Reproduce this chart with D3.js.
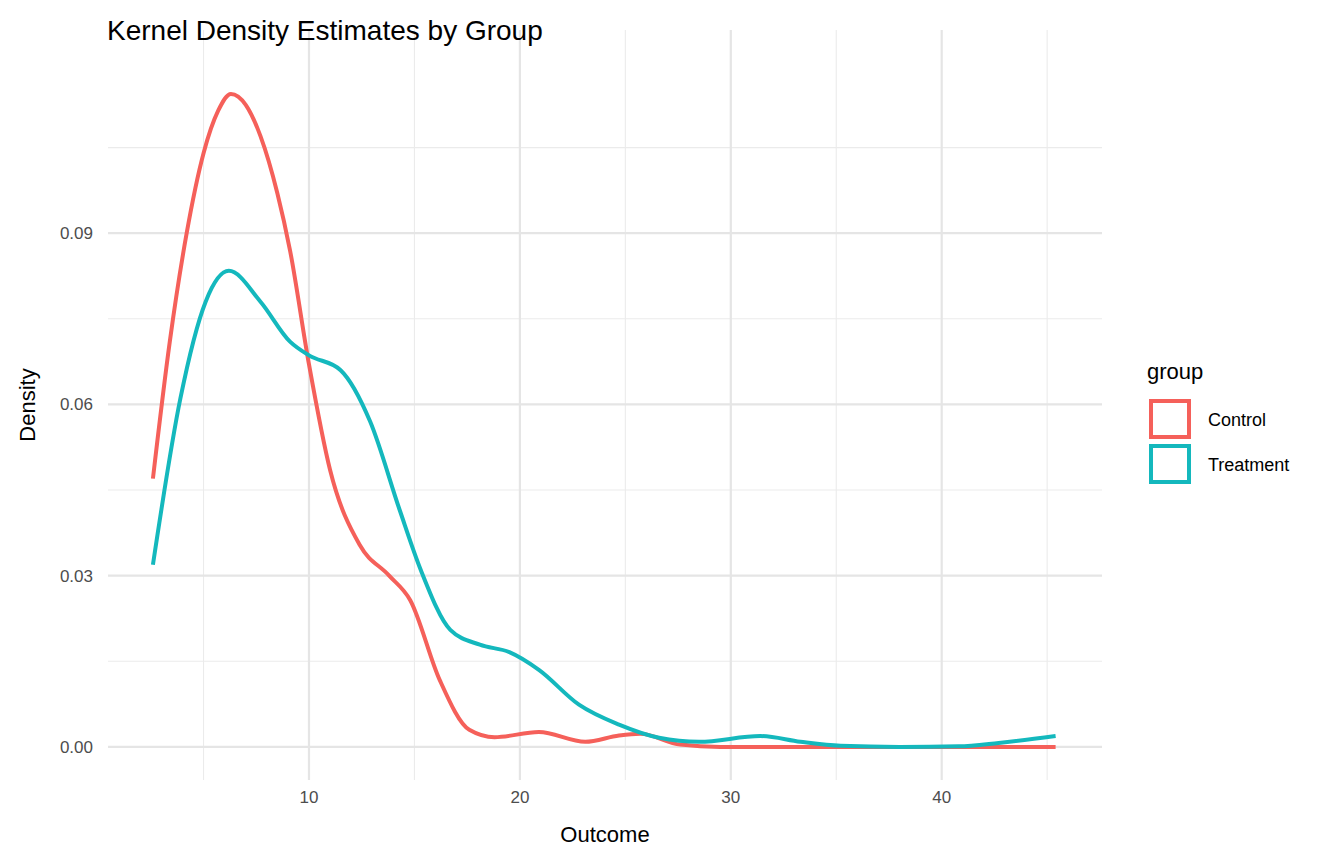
<!DOCTYPE html>
<html><head><meta charset="utf-8">
<script src="https://cdn.jsdelivr.net/npm/d3@7"></script>
<style>body{margin:0;background:#fff;font-family:"Liberation Sans",Arial,sans-serif;}</style>
</head><body><div id="canvas"></div>
<script>
var groups = ["Control", "Treatment"];
var colors = ["#F5605A", "#14B8BD"];
var controlX = [2.6,3.4,4.2,5.0,5.7,6.3,7.0,7.7,8.5,9.1,10,11,12.4,13.8,14.8,16.2,17.6,18.8,20.9,23.1,24.7,25.7,27.6,29.5,35,40,45.4];
var controlY = [0.047,0.071,0.090,0.104,0.1115,0.1144,0.1125,0.107,0.097,0.087,0.067,0.0485,0.0354,0.030,0.0257,0.0117,0.003,0.0017,0.0026,0.0009,0.002,0.0023,0.0004,0,0,0,0];
var treatX = [2.6,3.9,5.1,6.2,7.7,9.1,10,11.5,12.9,14.3,15.3,16.7,18.1,19.5,20.9,22.8,24.7,26.6,28.5,31.4,33.3,35.2,38,40.8,42.7,45.4];
var treatY = [0.0319,0.061,0.078,0.0834,0.078,0.071,0.0686,0.066,0.057,0.0415,0.031,0.0205,0.0179,0.0166,0.0135,0.0074,0.0039,0.0016,0.0009,0.0019,0.0009,0.0002,0,0.0001,0.0007,0.0019];
var xMajor = [10,20,30,40], xMinor = [5,15,25,35,45];
var yMajor = [0,0.03,0.06,0.09], yMinor = [0.015,0.045,0.075,0.105];

var svg = d3.select("#canvas").append("svg").attr("width",1344).attr("height",864);
var x = d3.scaleLinear().domain([0.47,47.6]).range([108,1102]);
var y = d3.scaleLinear().domain([-0.0058,0.1256]).range([780,30]);

var grid = svg.append("g");
xMinor.forEach(function(v){grid.append("line").attr("x1",x(v)).attr("x2",x(v)).attr("y1",30).attr("y2",780).attr("stroke","#ebebeb").attr("stroke-width",1.1);});
yMinor.forEach(function(v){grid.append("line").attr("x1",108).attr("x2",1102).attr("y1",y(v)).attr("y2",y(v)).attr("stroke","#ebebeb").attr("stroke-width",1.1);});
xMajor.forEach(function(v){grid.append("line").attr("x1",x(v)).attr("x2",x(v)).attr("y1",30).attr("y2",780).attr("stroke","#e5e5e5").attr("stroke-width",2.2);});
yMajor.forEach(function(v){grid.append("line").attr("x1",108).attr("x2",1102).attr("y1",y(v)).attr("y2",y(v)).attr("stroke","#e5e5e5").attr("stroke-width",2.2);});

var line = d3.line().x(function(d){return x(d[0]);}).y(function(d){return y(d[1]);}).curve(d3.curveMonotoneX);
[[controlX,controlY],[treatX,treatY]].forEach(function(s,i){
	svg.append("path").datum(d3.zip(s[0],s[1])).attr("d",line)
		.attr("fill","none").attr("stroke",colors[i]).attr("stroke-width",4);
});

xMajor.forEach(function(v){svg.append("text").attr("x",x(v)).attr("y",803).attr("text-anchor","middle").attr("font-size",17).attr("fill","#4d4d4d").text(v);});
yMajor.forEach(function(v){svg.append("text").attr("x",93).attr("y",y(v)+6).attr("text-anchor","end").attr("font-size",17).attr("fill","#4d4d4d").text(v.toFixed(2));});

svg.append("text").attr("x",605).attr("y",842).attr("text-anchor","middle").attr("font-size",22).text("Outcome");
svg.append("text").attr("transform","translate(35,405) rotate(-90)").attr("text-anchor","middle").attr("font-size",22).text("Density");
svg.append("text").attr("x",107).attr("y",40).attr("font-size",28).text("Kernel Density Estimates by Group");

svg.append("text").attr("x",1147).attr("y",379).attr("font-size",22).text("group");
groups.forEach(function(g,i){
	var ky = 401 + i*45;
	svg.append("rect").attr("x",1151).attr("y",ky).attr("width",38).attr("height",36).attr("fill","#fff").attr("stroke",colors[i]).attr("stroke-width",4);
	svg.append("text").attr("x",1208).attr("y",ky+25).attr("font-size",18).text(g);
});
</script></body></html>
